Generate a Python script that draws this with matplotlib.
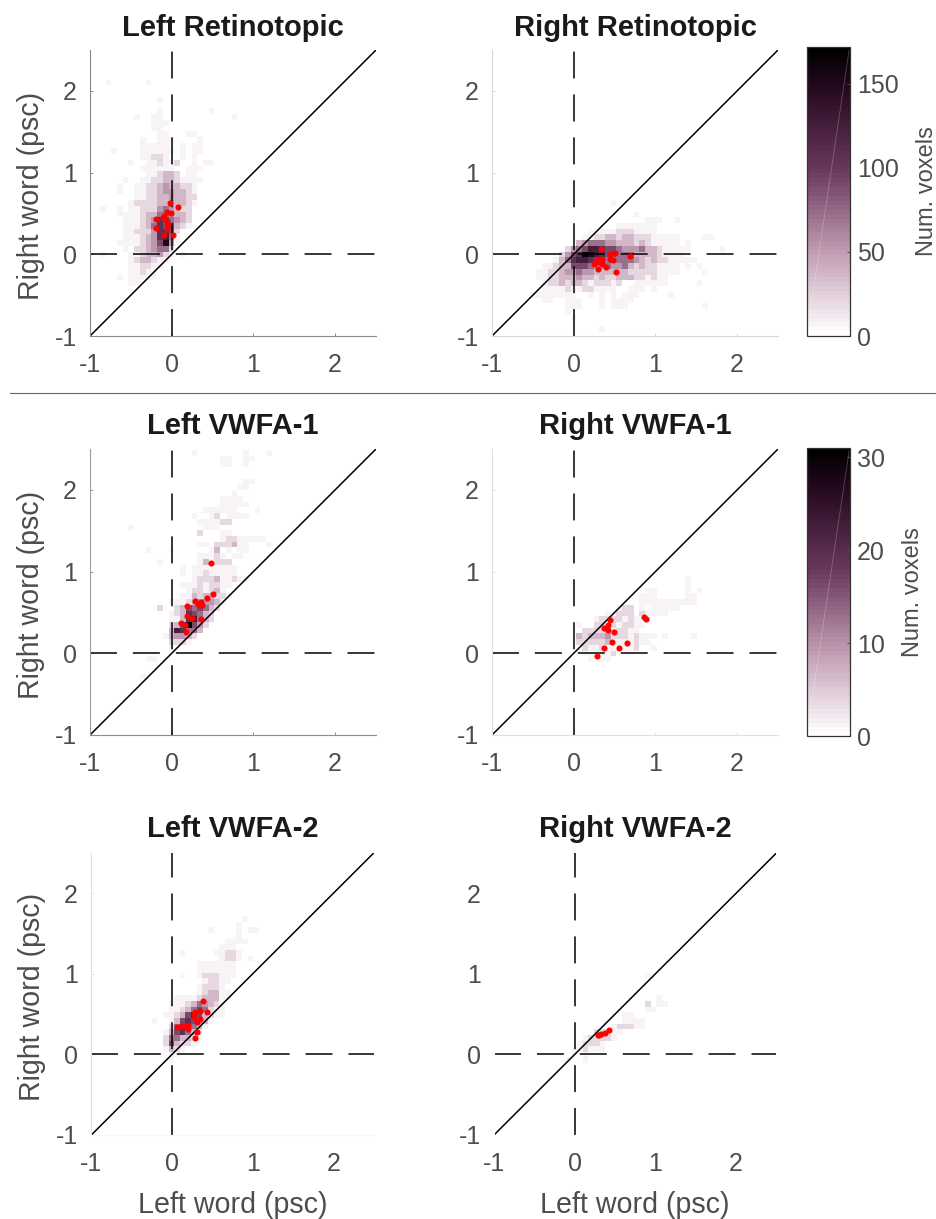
import numpy as np
import matplotlib
matplotlib.use("Agg")
import matplotlib.pyplot as plt
from matplotlib.colors import LinearSegmentedColormap
from matplotlib.cm import ScalarMappable
from matplotlib.colors import Normalize

plt.rcParams['font.family'] = ['Liberation Sans', 'DejaVu Sans']
plt.rcParams['lines.scale_dashes'] = False

W, H = 936, 1219
GREY = '#4d4d4d'

# intensity code -> fraction of the colour scale
LEVELS = {'.': 0, '1': .035, '2': .11, '3': .21, '4': .31, '5': .41, '6': .52,
          '7': .62, '8': .72, '9': .86, 'a': 1.0}
VMAX_RET = 172
VMAX_VWFA = 31

# histogram cells: (row, first column, intensity codes)
left_ret = [
 (44,3,"1"),(44,10,"1"),(41,12,"1"),(39,12,"1"),(39,21,"1"),(38,8,"1"),(38,11,"11"),(38,25,"1"),
 (37,11,"111"),(36,11,"11"),(35,12,"11"),(35,17,"11"),(34,9,"1"),(34,12,"111"),(34,19,"1"),
 (33,9,"11111"),(33,16,"1"),(33,18,"11"),(32,4,"1"),(32,9,"111111"),(32,16,"1"),(32,18,"11"),
 (31,9,"11221"),(31,16,"1"),(31,18,"1"),(30,7,"1"),(30,10,"112112"),(30,18,"1"),(30,20,"11"),
 (29,9,"111111"),(29,17,"111"),(28,10,"112332"),(28,17,"11"),
 (27,6,"1"),(27,9,"11223321111"),(26,5,"1"),(26,8,"1122343322" ),(26,18,"1"),
 (25,5,"1"),(25,8,"112234433" ),(25,17,"21"),
 (24,8,"11223343322"),(23,7,"12222334332" ),(23,18,"1"),
 (22,2,"1"),(22,5,"1"),(22,7,"1122245432"),(22,17,"2"),
 (21,5,"1111233554332"),(20,6,"111234765432"),
 (19,6,"11123576632"),(19,17,"1"),(18,6,"1122247762"),
 (17,6,"1112347851"),(16,5,"1111234"),(16,12,"6941"),
 (15,6,"1"),(15,8,"2234552"),(14,2,"1"),(14,7,"11233421"),(14,16,"1"),
 (13,7,"1233211"),(12,7,"112211"),(11,7,"11211"),(10,5,"1"),(10,7,"11111"),(9,7,"11"),
]
right_ret = [
 (23,21,"1"),(21,25,"1"),(20,27,"111"),(20,32,"1"),(19,22,"1111111"),
 (18,17,"111112221111"),
 (17,16,"1122332332221"),(17,29,"1111"),(17,37,"11"),
 (16,15,"345554433323211111"),(16,34,"1"),
 (15,13,"24568876654445332111"),(15,33,"11"),(15,40,"1"),
 (14,12,"2467a9876655533332111"),(14,33,"1"),
 (13,11,"135788766555554323221111"),(13,35,"1"),
 (12,9,"112336665445445323221111"),(12,34,"1"),(12,36,"1"),
 (11,8,"1122344544333333222221111"),(11,37,"1"),
 (10,8,"11223334332322333221211"),
 (9,9,"12232332122212"),(9,25,"111111"),(9,36,"1"),
 (8,9,"1111211221111"),(8,24,"111"),(8,28,"1"),
 (7,7,"111111"),(7,13,"11"),(7,17,"1"),(7,19,"1"),(7,21,"1"),(7,23,"111"),(7,31,"1"),
 (6,9,"11"),(6,13,"111"),(6,19,"1"),(6,21,"1111"),
 (5,13,"111"),(5,19,"1"),(5,21,"111"),(5,37,"1"),(4,13,"1"),(3,14,"1"),(1,19,"1"),
]
left_vwfa1 = [
 (49,18,"1"),(49,27,"1"),(49,31,"1"),(48,23,"11"),(48,27,"11"),(47,23,"11"),(47,27,"1"),
 (44,27,"11"),(43,26,"11"),(42,25,"1"),(41,23,"1111"),(40,23,"11111"),
 (39,20,"1111"),(39,24,"11"),(39,29,"1"),(38,18,"1"),(38,21,"12"),(38,24,"1111"),
 (37,19,"111122"),(36,7,"1"),(36,20,"111"),(35,19,"2"),(35,23,"11"),
 (34,23,"122"),(34,26,"11111"),(33,19,"11"),(33,22,"2223"),(33,26,"11"),(33,31,"1"),
 (32,10,"1"),(32,14,"1"),(32,21,"13"),(32,24,"1"),(32,26,"11"),
 (31,19,"1112"),(31,23,"1"),(31,25,"11"),(30,12,"1"),(30,19,"131222"),
 (29,16,"1"),(29,18,"11111111"),(28,16,"1"),(28,18,"11211111"),
 (27,18,"12223"),(27,23,"11211"),(26,16,"1112122"),(26,23,"11"),(25,17,"1221231"),
 (24,16,"113233221"),(23,14,"111234443"),(23,23,"1"),(22,12,"2"),(22,15,"236565"),(22,21,"32"),
 (21,14,"12376532"),(20,14,"11378532"),(19,14,"236a642"),(18,14,"387553"),(17,13,"134432"),
 (16,14,"2221"),(15,14,"1"),(13,10,"11"),(10,9,"1"),
]
right_vwfa1 = [
 (27,34,"1"),(26,34,"1"),(25,27,"11"),(25,34,"1"),(25,36,"1"),(24,26,"111"),(24,34,"11"),
 (23,26,"1111111111"),(22,22,"122"),(22,26,"1"),(22,28,"11111"),
 (21,20,"1122"),(21,24,"2"),(21,26,"2111"),(21,30,"1"),
 (20,18,"12222121"),(20,26,"11"),(19,15,"1"),(19,18,"22"),(19,21,"21221"),(19,26,"1"),
 (18,16,"222231221"),(18,25,"1"),(17,15,"32333422212111"),(17,30,"1"),(17,35,"1"),
 (16,15,"222223111121"),(16,27,"1"),(15,16,"2112111112"),(15,28,"1"),
 (14,16,"111"),(14,19,"112"),(13,17,"1"),(13,19,"11"),
]
left_vwfa2 = [
 (38,27,"1"),(37,26,"1"),(36,26,"1"),(36,21,"1"),(36,28,"11"),(35,26,"1"),
 (34,24,"1111"),(33,23,"111"),(32,16,"1"),(32,22,"11221"),(31,23,"1221"),(31,28,"1"),
 (30,19,"1111111"),(29,19,"1111111"),(28,16,"1"),(28,19,"1222111"),
 (27,20,"12211"),(26,19,"12221"),(25,19,"123311"),
 (24,15,"111123331" ),(24,24,"1"),(23,14,"111"),(23,17,"2354321"),
 (22,14,"1123565211"),(21,13,"1123686321"),(21,23,"1"),
 (20,11,"1"),(20,14,"1367643" ),(20,21,"1"),(19,14,"2576531"),
 (18,13,"1367532"),(17,13,"2553321"),(16,13,"263221"),(15,13,"1321"),(14,14,"11"),(13,14,"1"),
]
right_vwfa2 = [
 (28,27,"1"),(24,29,"1"),(23,27,"2"),(23,29,"11"),(22,27,"11"),(21,23,"11"),
 (20,23,"1111"),(19,21,"122211"),(18,18,"22211"),(17,16,"122221"),
 (16,15,"12221"),(15,14,"112111"),(14,14,"1"),(14,16,"1"),(13,13,"1"),(13,16,"1"),
]

# subject points: left word, right word
left_ret_x = [-.02,.08,-.06,-.01,-.09,-.11,-.06,-.19,-.04,-.19,-.06,-.10,.01]
left_ret_y = [.63,.58,.52,.50,.47,.45,.41,.43,.36,.32,.31,.24,.23]
right_ret_x = [.33,.51,.44,.69,.29,.35,.45,.48,.30,.25,.35,.40,.30,.52]
right_ret_y = [.06,.01,.0,-.02,-.06,-.06,-.06,-.065,-.09,-.12,-.12,-.15,-.18,-.22]
left_v1_x = [.48,.50,.43,.29,.36,.32,.34,.375,.19,.19,.25,.36,.11,.16,.17]
left_v1_y = [1.11,.73,.68,.64,.63,.60,.59,.59,.58,.46,.43,.42,.37,.35,.26]
right_v1_x = [.445,.425,.375,.425,.49,.86,.885,.47,.65,.37,.56,.285]
right_v1_y = [.41,.35,.31,.28,.26,.45,.42,.14,.13,.06,.06,-.03]
left_v2_x = [.39,.35,.44,.28,.27,.27,.35,.31,.065,.13,.20,.19,.20,.31,.29]
left_v2_y = [.66,.54,.53,.53,.50,.47,.44,.40,.34,.35,.37,.345,.31,.28,.20]
right_v2_x = [.43,.38,.33,.30,.285]
right_v2_y = [.30,.27,.255,.24,.235]

titles = ["Left Retinotopic", "Right Retinotopic", "Left VWFA-1", "Right VWFA-1", "Left VWFA-2", "Right VWFA-2"]
cells = [left_ret, right_ret, left_vwfa1, right_vwfa1, left_vwfa2, right_vwfa2]
pts = [(left_ret_x, left_ret_y), (right_ret_x, right_ret_y), (left_v1_x, left_v1_y),
       (right_v1_x, right_v1_y), (left_v2_x, left_v2_y), (right_v2_x, right_v2_y)]
vmaxes = [VMAX_RET, VMAX_RET, VMAX_VWFA, VMAX_VWFA, VMAX_VWFA, VMAX_VWFA]
ticks = [-1, 0, 1, 2]
tick_labels = ['-1', '0', '1', '2']

cmap = LinearSegmentedColormap.from_list('wp', [
    (0, (1, 1, 1)), (.29, (192/255, 155/255, 178/255)), (.58, (105/255, 55/255, 90/255)),
    (.87, (35/255, 8/255, 30/255)), (1, (0, 0, 0))], N=64)

fig = plt.figure(figsize=(W/100, H/100), dpi=100)

def axpx(l, t, r, b):
    return fig.add_axes([l/W, 1-b/H, (r-l)/W, (b-t)/H])

boxes = [(90,50,376,336),(492,50,778,336),(90,449,376,735),(492,449,778,735),(91.3,853,373.7,1135),(494,853,776.4,1135)]
spine_left = ['#8a8a8a', '#d8d8d8', '#9c9c9c', '#e0e0e0', '#e2e2e2', '#ffffff']
spine_bottom = ['#8a8a8a', '#d8d8d8', '#8c8c8c', '#e0e0e0', '#f6f6f6', '#ffffff']
title_pads = [10, 10, 10.5, 10.5, 11.5, 11.5]
FS_T, FS_TICK, FS_LAB = 21, 18, 20.6

for i, box in enumerate(boxes):
    ax = axpx(*box)
    grid = np.zeros((50, 50))
    for row, col, codes in cells[i]:
        for k, ch in enumerate(codes):
            grid[row, col+k] = LEVELS[ch]*vmaxes[i]
    ax.imshow(grid, origin='lower', extent=(-1.02, 2.48, -1.02, 2.48), cmap=cmap,
              vmin=0, vmax=vmaxes[i], aspect='auto', interpolation='nearest', zorder=1)
    dash = dict(color='k', lw=1.1, dashes=(19.4, 11.5), dash_capstyle='butt', zorder=2)
    ax.plot([-1, 2.5], [0, 0], **dash)
    ax.plot([0, 0], [-1, 2.5], **dash)
    ax.plot([-1, 2.5], [-1, 2.5], color='k', lw=1.1, zorder=2)
    ax.plot(pts[i][0], pts[i][1], 'o', color='#ff0000', ms=4.4, mew=0, zorder=3)
    ax.set_xlim(-1, 2.5); ax.set_ylim(-1, 2.5)
    ax.set_xticks(ticks); ax.set_xticklabels(tick_labels)
    ax.set_yticks(ticks); ax.set_yticklabels(tick_labels)
    ax.tick_params(direction='in', length=2, width=.7, labelcolor=GREY, labelsize=FS_TICK)
    ax.tick_params(axis='x', pad=12.5, color=spine_bottom[i])
    ax.tick_params(axis='y', pad=9.5, color=spine_left[i])
    for s in ('top', 'right'):
        ax.spines[s].set_visible(False)
    ax.spines['left'].set_color(spine_left[i]); ax.spines['left'].set_linewidth(.8)
    ax.spines['bottom'].set_color(spine_bottom[i]); ax.spines['bottom'].set_linewidth(.8)
    ax.set_title(titles[i], fontsize=FS_T, fontweight='bold', color='#1a1a1a', pad=title_pads[i])
    if i % 2 == 0:
        ax.set_ylabel("Right word (psc)", fontsize=FS_LAB, color=GREY, labelpad=7)
        ax.yaxis.label.set_y(0.488)
    if i >= 4:
        ax.set_xlabel("Left word (psc)", fontsize=FS_LAB, color=GREY, labelpad=10.5)

for box, vmax, cbt in [((807,47,850,336), VMAX_RET, [0,50,100,150]), ((807,448,850,736), VMAX_VWFA, [0,10,20,30])]:
    cax = axpx(*box)
    cb = fig.colorbar(ScalarMappable(Normalize(0, vmax), cmap), cax=cax)
    cb.set_ticks(cbt)
    cb.ax.tick_params(direction='in', length=2.2, width=.7, color=GREY, labelcolor=GREY, labelsize=FS_TICK, pad=5)
    cb.outline.set_edgecolor('#333333'); cb.outline.set_linewidth(.9)
    cax.plot([.07, .98], [.08, .99], transform=cax.transAxes, color='white', alpha=.25, lw=.6)
    cb.set_label("Num. voxels", fontsize=17, color=GREY, labelpad=12.5)

fig.add_artist(plt.Line2D([10/W, 1], [1-393/H, 1-393/H], color='#666666', lw=.8))
fig.savefig('out.png', dpi=100)
